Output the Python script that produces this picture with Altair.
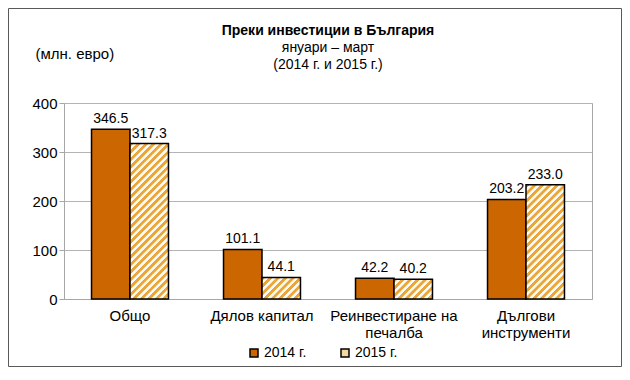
import altair as alt
import pandas as pd

# ---- data ----
categories = ['Общо', 'Дялов капитал', 'Реинвестиране на|печалба', 'Дългови|инструменти']
years = ['2014 г.', '2015 г.']
values_2014 = [346.5, 101.1, 42.2, 203.2]
values_2015 = [317.3, 44.1, 40.2, 233.0]
y_ticks = [0, 100, 200, 300, 400]

title_text = 'Преки  инвестиции в България'
subtitle_lines = ['януари – март', '(2014 г. и 2015 г.)']
unit_text = '(млн. евро)'

# ---- styling ----
W, H = 528, 196
Y_MAX = 400
FONT = 'Liberation Sans'
C2014 = '#CC6600'
HATCH = '#EBA63A'
PAPER = '#FFFAF0'
LEGEND_2015 = '#F5D7A1'
GREY = '#A6A6A6'
PAD_INNER = 0.417
STRIPE_PERIOD = 7.5

rows = []
for c, a, b in zip(categories, values_2014, values_2015):
    rows.append({'cat': c, 'year': years[0], 'value': a})
    rows.append({'cat': c, 'year': years[1], 'value': b})
df = pd.DataFrame(rows)

step = W / len(categories)
bar_w = step * (1 - PAD_INNER) / 2


def hatch(value):
    """Diagonal stripe fill (45deg on screen) for a bar of the given value."""
    w = bar_w
    h = value / Y_MAX * H
    s = w + h
    n2 = w * w + h * h
    x2 = w * s / n2
    y2 = h * s / n2
    period = STRIPE_PERIOD / s
    stops = []
    t = 0.0
    while t < 1:
        for off, col in [(0.0, HATCH), (0.42, HATCH), (0.55, PAPER), (0.92, PAPER)]:
            o = t + off * period
            if o <= 1:
                stops.append(alt.GradientStop(offset=o, color=col))
        t += period
    return alt.LinearGradient(gradient='linear', stops=stops, x1=0, y1=0, x2=x2, y2=y2)


x = alt.X('cat:N', sort=categories,
          scale=alt.Scale(paddingInner=PAD_INNER, paddingOuter=PAD_INNER / 2),
          axis=alt.Axis(title=None, labelExpr="split(datum.label, '|')", ticks=False,
                        labelAngle=0, labelFontSize=15, labelPadding=9, labelLineHeight=17,
                        domainColor=GREY, labelFont=FONT, labelColor='black'))
xo = alt.XOffset('year:N', sort=years,
                 scale=alt.Scale(domain=years, paddingInner=0, paddingOuter=0))
y = alt.Y('value:Q', scale=alt.Scale(domain=[0, Y_MAX], nice=False),
          axis=alt.Axis(values=y_ticks, title=unit_text, titleAngle=0, titleAlign='left',
                        titleBaseline='middle', titleX=-29, titleY=-50, titleFontWeight='normal',
                        titleFontSize=15, titleFont=FONT, titleColor='black',
                        labelFontSize=15, labelFont=FONT, labelColor='black', labelPadding=2,
                        tickSize=5, tickColor=GREY, domainColor=GREY, gridColor='#B4B4B4'))

border = alt.Chart(pd.DataFrame({'b': [0]})).mark_rect(
    fill='transparent', stroke='#595959', strokeWidth=1
).encode(x=alt.value(-55.5), x2=alt.value(557.5), y=alt.value(-94.5), y2=alt.value(263.5))

bars14 = alt.Chart(df).transform_filter(alt.datum.year == years[0]).mark_bar(
    stroke='black', strokeWidth=1.5
).encode(
    x=x, xOffset=xo, y=y,
    color=alt.Color('year:N', scale=alt.Scale(domain=years, range=[C2014, LEGEND_2015]),
                    legend=alt.Legend(title=None, orient='none', legendX=183, legendY=243,
                                      direction='horizontal', symbolType='square',
                                      symbolSize=64, symbolStrokeColor='black',
                                      symbolStrokeWidth=1.5, labelFontSize=14, labelFont=FONT,
                                      labelColor='black', columnPadding=31, labelOffset=3,
                                      padding=0))
)

bars15 = []
for i, c in enumerate(categories):
    bars15.append(
        alt.Chart(df).transform_filter((alt.datum.year == years[1]) & (alt.datum.cat == c))
        .mark_bar(fill=hatch(values_2015[i]), stroke='black', strokeWidth=1.5)
        .encode(x=x, xOffset=xo, y=y)
    )

labels = alt.Chart(df).mark_text(dy=-6, baseline='alphabetic', fontSize=14, font=FONT,
                                 color='black').encode(
    x=x, xOffset=xo, y=y, text=alt.Text('value:Q', format='.1f'))

title = alt.Chart(pd.DataFrame({'t': [title_text]})).mark_text(
    fontSize=14, fontWeight='bold', font=FONT, align='center', baseline='alphabetic',
    color='black'
).encode(x=alt.value(W / 2), y=alt.value(-68), text='t:N')

subtitle = alt.Chart(pd.DataFrame({'t': [0]})).mark_text(
    fontSize=14, font=FONT, align='center', baseline='alphabetic', lineHeight=17,
    color='black'
).encode(x=alt.value(W / 2), y=alt.value(-51), text=alt.value(subtitle_lines))

chart = alt.layer(border, bars14, *bars15, labels, title, subtitle).properties(
    width=W, height=H, padding=0
).configure_view(stroke=GREY)

chart.save("out.html", embed_options={"renderer": "svg", "actions": False})
